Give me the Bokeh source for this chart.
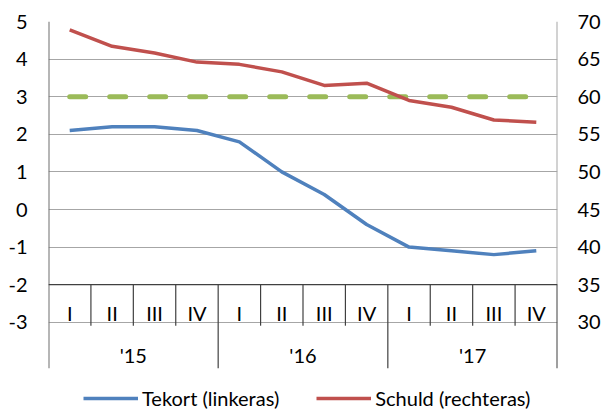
from bokeh.plotting import figure
from bokeh.models import Range1d, LinearAxis, FixedTicker, Legend, LegendItem
from bokeh.embed import file_html
from bokeh.resources import INLINE

# ---- data ----
quarters = ["I", "II", "III", "IV", "I", "II", "III", "IV", "I", "II", "III", "IV"]
years = ["'15", "'16", "'17"]
tekort = [2.1, 2.2, 2.2, 2.1, 1.8, 1.0, 0.4, -0.4, -1.0, -1.1, -1.2, -1.1]
schuld = [68.9, 66.7, 65.8, 64.6, 64.3, 63.3, 61.5, 61.8, 59.5, 58.6, 56.9, 56.6]
norm = [3, 3, 3, 3, 3, 3, 3, 3, 3, 3, 3, 3]
left_ticks = [-3, -2, -1, 0, 1, 2, 3, 4, 5]
right_ticks = [30, 35, 40, 45, 50, 55, 60, 65, 70]

FONT = "Lato"
FS = "20px"
BLUE = "#4F81BD"
RED = "#C0504D"
GREEN = "#9BBB59"
GRID = "#A6A6A6"
DARK = "#404040"
AXIS = "#6E6E6E"

W, H = 607, 410
TOP, LEFT, RIGHT = 21, 48, 50
PX = 37.6                              # pixels per unit on the left axis

n = len(quarters)
xs = [i + 0.5 for i in range(n)]
axis_y = left_ticks[1]                 # category axis crosses at -2
lo, hi = left_ticks[0], left_ticks[-1]
frame_h = H - TOP
y_start = hi - frame_h / PX            # frame runs to the bottom of the canvas
y_box_end = lo - 46 / PX               # where the year separators end

def to_right(v):
    return right_ticks[0] + (v - lo) * (right_ticks[1] - right_ticks[0])

p = figure(width=W, height=H, output_backend="svg", toolbar_location=None,
           x_range=Range1d(0, n), y_range=Range1d(y_start, hi),
           x_axis_location=None, min_border_left=LEFT, min_border_right=RIGHT,
           min_border_top=TOP, min_border_bottom=0)
p.outline_line_color = None
p.xgrid.visible = False

p.extra_y_ranges = {"right": Range1d(to_right(y_start), to_right(hi))}

def style_axis(ax, standoff, ticks):
    ax.major_label_text_font = FONT
    ax.major_label_text_font_size = FS
    ax.major_label_text_color = "black"
    ax.major_tick_line_color = None
    ax.major_tick_out = 0
    ax.major_tick_in = 0
    ax.minor_tick_line_color = None
    ax.minor_tick_out = 0
    ax.axis_line_color = None
    ax.major_label_standoff = standoff
    ax.major_label_overrides = {t: str(t) for t in ticks}

ya = p.yaxis[0]
ya.ticker = FixedTicker(ticks=left_ticks)
style_axis(ya, 21, left_ticks)

ra = LinearAxis(y_range_name="right", ticker=FixedTicker(ticks=right_ticks))
style_axis(ra, 20, right_ticks)
p.add_layout(ra, "right")

p.ygrid.ticker = FixedTicker(ticks=left_ticks)
p.ygrid.grid_line_color = GRID
p.ygrid.grid_line_width = 1

# vertical axis lines (stop where the category box ends)
p.segment(x0=[0], y0=[hi], x1=[0], y1=[y_box_end], line_color=AXIS, line_width=2)
p.segment(x0=[n], y0=[hi], x1=[n], y1=[axis_y], line_color=GRID, line_width=2)

# category axis box
p.segment(x0=[0], y0=[axis_y], x1=[n], y1=[axis_y], line_color=DARK, line_width=1.3)
q_sep = [i for i in range(1, n) if i % 4 != 0]
p.segment(x0=q_sep, y0=[axis_y] * len(q_sep), x1=q_sep,
          y1=[axis_y - 41 / PX] * len(q_sep), line_color=DARK, line_width=1.2)
y_sep = [i for i in range(4, n, 4)]
p.segment(x0=y_sep, y0=[axis_y] * len(y_sep), x1=y_sep,
          y1=[y_box_end] * len(y_sep), line_color=DARK, line_width=1.2)
p.segment(x0=[n], y0=[axis_y], x1=[n], y1=[y_box_end], line_color=DARK, line_width=2)

p.text(x=xs, y=[axis_y] * n, text=quarters, y_offset=28, text_align="center",
       text_baseline="middle", text_font={"value": FONT}, text_font_size=FS,
       text_color="black")
yc = [4 * k + 2 for k in range(len(years))]
p.text(x=yc, y=[axis_y] * len(years), text=years, y_offset=70, text_align="center",
       text_baseline="middle", text_font={"value": FONT}, text_font_size=FS,
       text_color="black")

# series
p.line(xs, norm, line_color=GREEN, line_width=5, line_dash="16 24", line_cap="round")
r_blue = p.line(xs, tekort, line_color=BLUE, line_width=3.5, line_join="round")
r_red = p.line(xs, schuld, line_color=RED, line_width=3.5, line_join="round",
               y_range_name="right")

legend = Legend(items=[LegendItem(label="Tekort (linkeras)", renderers=[r_blue]),
                       LegendItem(label="Schuld (rechteras)", renderers=[r_red])],
                orientation="horizontal", location=(35, 0), glyph_width=55,
                glyph_height=20, label_height=20, label_standoff=4, spacing=37,
                padding=0, margin=0, border_line_color=None,
                background_fill_alpha=0, label_text_font=FONT,
                label_text_font_size=FS, label_text_color="black")
p.add_layout(legend)

open("out.html", "w").write(file_html(p, INLINE))
